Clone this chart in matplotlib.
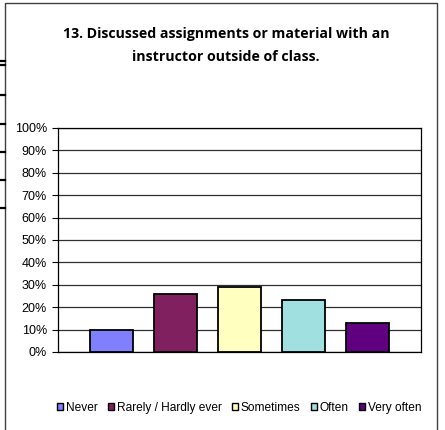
import matplotlib
matplotlib.use("Agg")
import matplotlib.pyplot as plt
from matplotlib.patches import Rectangle
from matplotlib.lines import Line2D

categories = ["Never", "Rarely / Hardly ever", "Sometimes", "Often", "Very often"]
values = [10, 26, 29, 23, 13]
colors = ["#8080FF", "#80205F", "#FFFFC0", "#A0E0E0", "#600080"]
yticks = [0, 10, 20, 30, 40, 50, 60, 70, 80, 90, 100]
title = "13. Discussed assignments or material with an\ninstructor outside of class."

W, H = 445, 430
fig = plt.figure(figsize=(W / 100, H / 100), dpi=100)

def fx(x): return x / W
def fy(y): return 1 - y / H

# outer chart frame
fig.add_artist(Line2D([fx(5), fx(5), fx(437), fx(437)], [fy(432), fy(3), fy(3), fy(432)],
                      color="#404040", lw=1.0, transform=fig.transFigure))
# leftover lines at left edge
for yy in [61, 65, 95, 124, 152, 180, 208]:
    fig.add_artist(Line2D([0, fx(5)], [fy(yy), fy(yy)], color="black", lw=1.6,
                          transform=fig.transFigure))

ax = fig.add_axes([fx(58), fy(352), fx(421) - fx(58), fy(128) - fy(352)])
x = list(range(len(categories)))
ax.bar(x, values, width=43 / 64, color=colors, edgecolor="black", linewidth=1.3, zorder=3)
ax.set_xlim(-0.836, 4.83)
ax.set_ylim(0, 100)
ax.set_yticks(yticks)
ax.set_yticklabels([f"{t}%" for t in yticks], fontfamily="Liberation Sans", fontsize=9)
ax.set_xticks([])
ax.yaxis.grid(True, color="#303030", lw=0.9, zorder=0)
ax.tick_params(axis="y", length=4, width=0.8, pad=4)
for s in ax.spines.values():
    s.set_color("black")
    s.set_linewidth(0.9)

fig.text(fx(226), fy(45.5), title, ha="center", va="center", fontfamily="Open Sans",
         fontweight="bold", fontsize=10.2, linespacing=1.75)

handles = [Rectangle((0, 0), 1, 1, facecolor=c, edgecolor="black", lw=1.0) for c in colors]
fig.legend(handles, categories, loc="center", bbox_to_anchor=(fx(239), fy(408)), ncol=5,
           frameon=False, handlelength=0.55, handleheight=0.55, handletextpad=0.2,
           columnspacing=0.85, prop={"family": "Liberation Sans", "size": 8.6})

fig.savefig("out.png", dpi=100)
